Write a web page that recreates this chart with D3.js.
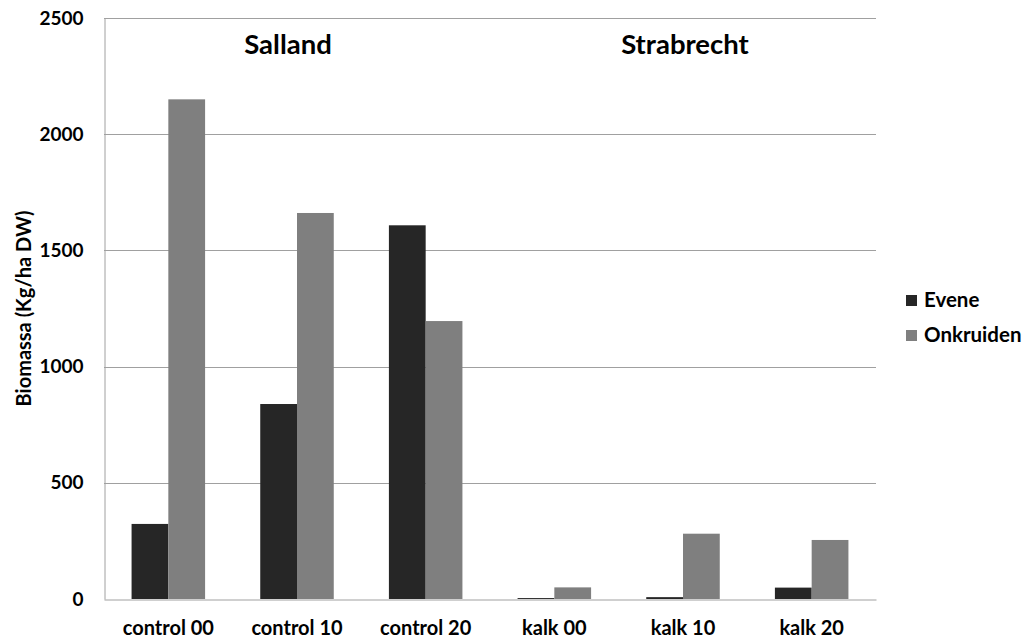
<!DOCTYPE html>
<html>
<head>
<meta charset="utf-8">
<script src="https://cdn.jsdelivr.net/npm/d3@7"></script>
<style>
  html, body { margin: 0; padding: 0; background: #fff; }
  svg { display: block; font-family: Lato, "Open Sans", sans-serif; font-weight: bold; }
</style>
</head>
<body>
<svg id="chart" width="1027" height="640"></svg>
<script>
const categories = ["control 00", "control 10", "control 20", "kalk 00", "kalk 10", "kalk 20"];
const seriesNames = ["Evene", "Onkruiden"];
const evene = [323, 839, 1608, 4, 8, 49];
const onkruiden = [2150, 1661, 1196, 50, 281, 254];
const yTicks = [0, 500, 1000, 1500, 2000, 2500];
const groupTitles = ["Salland", "Strabrecht"];
const yAxisTitle = "Biomassa (Kg/ha DW)";
const colors = ["#262626", "#7f7f7f"];

(function () {
const series = [evene, onkruiden];
const svg = d3.select("#chart");
const mLeft = 104, mRight = 876, mTop = 18, mBottom = 599;

const x0 = d3.scaleBand().domain(categories).range([mLeft, mRight])
  .paddingInner(1.5 / 3.5).paddingOuter(0.75 / 3.5);
const x1 = d3.scaleBand().domain(seriesNames).range([0, x0.bandwidth()]);
const y = d3.scaleLinear().domain([0, 2500]).range([mBottom, mTop]);
const color = d3.scaleOrdinal().domain(seriesNames).range(colors);

// gridlines
svg.append("g").selectAll("line").data(yTicks.filter(d => d > 0)).join("line")
  .attr("x1", mLeft).attr("x2", mRight)
  .attr("y1", d => Math.round(y(d)) + 0.5).attr("y2", d => Math.round(y(d)) + 0.5)
  .attr("stroke", "#a0a0a0").attr("stroke-width", 1);

// y axis
const yAxis = d3.axisLeft(y).tickValues(yTicks).tickSize(0).tickPadding(21).tickFormat(d3.format("d"));
const gy = svg.append("g").attr("transform", `translate(${mLeft + 0.5},0)`).call(yAxis);
gy.select(".domain").attr("stroke", "#a0a0a0");
gy.selectAll("text").attr("font-size", 19).attr("font-family", "Lato, sans-serif")
  .attr("font-weight", "bold").attr("fill", "#000");

// bars
const rows = categories.map((c, i) => ({ cat: c, vals: seriesNames.map((s, j) => ({ s, v: series[j][i] })) }));
svg.append("g").selectAll("g").data(rows).join("g")
  .attr("transform", d => `translate(${x0(d.cat)},0)`)
  .selectAll("rect").data(d => d.vals).join("rect")
  .attr("x", d => x1(d.s)).attr("width", x1.bandwidth())
  .attr("y", d => y(d.v)).attr("height", d => y(0) - y(d.v))
  .attr("fill", d => color(d.s));

// x axis
const xAxis = d3.axisBottom(x0).tickSize(0).tickPadding(21);
const gx = svg.append("g").attr("transform", `translate(0,${mBottom + 0.5})`).call(xAxis);
gx.select(".domain").attr("stroke", "#a0a0a0");
gx.selectAll("text").attr("font-size", 20).attr("font-family", "Lato, sans-serif")
  .attr("font-weight", "bold").attr("fill", "#000");

// group titles
const mid = c => x0(c) + x0.bandwidth() / 2;
const titleX = [mid(categories[1]) - 9, mid(categories[4]) + 2];
svg.append("g").selectAll("text").data(groupTitles).join("text")
  .attr("x", (d, i) => titleX[i]).attr("y", 54)
  .attr("text-anchor", "middle").attr("font-size", 27.5).attr("fill", "#000")
  .text(d => d);

// y axis title
svg.append("text")
  .attr("transform", `translate(31,${(mTop + mBottom) / 2}) rotate(-90)`)
  .attr("text-anchor", "middle").attr("font-size", 20).attr("fill", "#000")
  .text(yAxisTitle);

// legend
const legend = svg.append("g").selectAll("g").data(seriesNames).join("g")
  .attr("transform", (d, i) => `translate(906,${295 + i * 35})`);
legend.append("rect").attr("width", 11).attr("height", 11).attr("fill", d => color(d));
legend.append("text").attr("x", 18).attr("y", 12).attr("font-size", 20.5).attr("fill", "#000").text(d => d);
})();
</script>
</body>
</html>
